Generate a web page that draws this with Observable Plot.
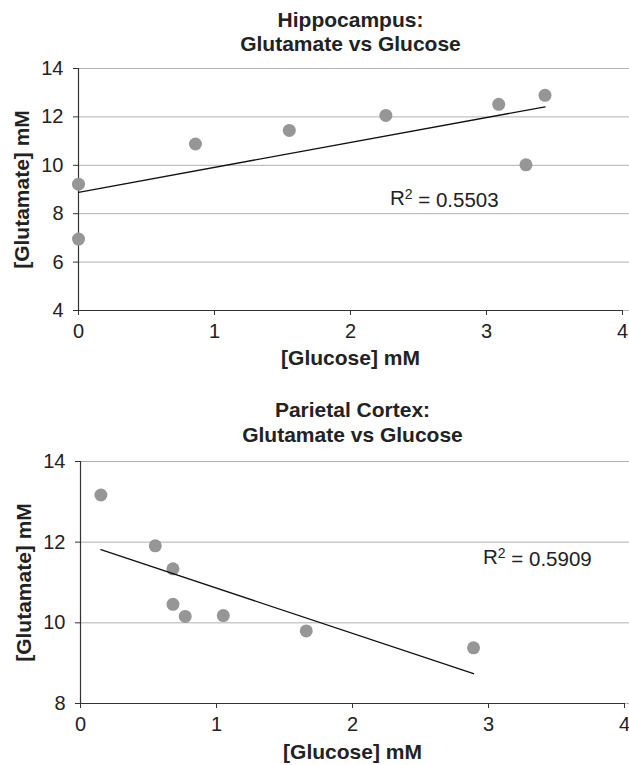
<!DOCTYPE html>
<html><head><meta charset="utf-8">
<script src="https://cdn.jsdelivr.net/npm/d3@7"></script>
<script src="https://cdn.jsdelivr.net/npm/@observablehq/plot@0.6"></script>
<style>
body{margin:0;background:#fff;}
#chart{width:629px;}
#chart svg{display:block;overflow:visible;}
</style></head><body><div id="chart"></div>
<script>
// Hippocampus panel
const hippoGlucose   = [0, 0, 0.86, 1.55, 2.26, 3.09, 3.29, 3.43];
const hippoGlutamate = [9.22, 6.95, 10.88, 11.44, 12.06, 12.52, 10.02, 12.89];
// Parietal cortex panel
const parietalGlucose   = [0.15, 0.55, 0.68, 0.68, 0.77, 1.05, 1.66, 2.89];
const parietalGlutamate = [13.17, 11.91, 11.34, 10.46, 10.16, 10.18, 9.80, 9.38];

const titleLines = [["Hippocampus:", "Glutamate vs Glucose"], ["Parietal Cortex:", "Glutamate vs Glucose"]];
const r2Values = ["0.5503", "0.5909"];
const xLabel = "[Glucose] mM";
const yLabel = "[Glutamate] mM";
const xTicks = [0, 1, 2, 3, 4];
const hippoYTicks = [4, 6, 8, 10, 12, 14];
const parietalYTicks = [8, 10, 12, 14];

const FONT = "'Liberation Sans', Arial, Helvetica, sans-serif";

function panel({xs, ys, yTicks, title, r2, r2x, r2y, height, mt, mb, ml, mr, t1dy, t2dy, xldy}) {
  const data = xs.map((x, i) => ({x, y: ys[i]}));
  const yDomain = [d3.min(yTicks), d3.max(yTicks)];
  const svg = Plot.plot({
    width: 629, height,
    marginTop: mt, marginBottom: mb, marginLeft: ml, marginRight: mr,
    style: {fontFamily: FONT, fontSize: "20px", color: "#222", background: "white"},
    x: {domain: [0, 4], label: null},
    y: {domain: yDomain, label: null},
    marks: [
      Plot.gridY(yTicks, {stroke: "#b0b0b0", strokeOpacity: 1, insetRight: -7}),
      Plot.ruleX([0], {stroke: "#333", strokeWidth: 1.2}),
      Plot.ruleY([yDomain[0]], {stroke: "#333", strokeWidth: 1.2}),
      Plot.axisY(yTicks, {tickSize: 5, tickPadding: 10, fontSize: 20, label: null, stroke: "#333", tickFormat: d => String(d)}),
      Plot.axisX(xTicks, {tickSize: 5, tickPadding: 8, fontSize: 20, label: null, stroke: "#333", tickFormat: d => String(d)}),
      Plot.dot(data, {x: "x", y: "y", r: 6.5, fill: "#969696", stroke: null}),
      Plot.linearRegressionY(data, {x: "x", y: "y", ci: 0, stroke: "#111", strokeWidth: 1.3}),
      Plot.text([r2], {x: r2x, y: r2y, text: d => "R2 = " + d, textAnchor: "start", fontSize: 20.5, fill: "#222", className: "r2label"}),
      Plot.text([title[0]], {frameAnchor: "top", lineAnchor: "middle", text: d => d, dy: t1dy, fontWeight: "bold", fontSize: 21, fill: "#222"}),
      Plot.text([title[1]], {frameAnchor: "top", lineAnchor: "middle", text: d => d, dy: t2dy, fontWeight: "bold", fontSize: 21, fill: "#222"}),
      Plot.text([xLabel], {frameAnchor: "bottom", lineAnchor: "middle", text: d => d, dy: xldy, fontWeight: "bold", fontSize: 21, fill: "#222"}),
      Plot.text([yLabel], {frameAnchor: "left", lineAnchor: "middle", text: d => d, dx: -56, rotate: -90, textAnchor: "middle", fontWeight: "bold", fontSize: 21, fill: "#222"})
    ]
  });
  // Render the "2" of R2 as a superscript (still real text)
  d3.select(svg).selectAll(".r2label text").each(function() {
    const t = d3.select(this);
    const rest = this.textContent.slice(2);
    t.text(null);
    t.append("tspan").text("R");
    t.append("tspan").attr("dy", "-0.42em").attr("font-size", "0.68em").text("2");
    t.append("tspan").attr("dy", "0.42em").text(rest);
  });
  return svg;
}

const chart = document.getElementById("chart");
chart.append(panel({
  xs: hippoGlucose, ys: hippoGlutamate, yTicks: hippoYTicks, title: titleLines[0],
  r2: r2Values[0], r2x: 2.29, r2y: 8.65,
  height: 380, mt: 68, mb: 70, ml: 78, mr: 7, t1dy: -48.7, t2dy: -24.7, xldy: 48
}));
chart.append(panel({
  xs: parietalGlucose, ys: parietalGlutamate, yTicks: parietalYTicks, title: titleLines[1],
  r2: r2Values[1], r2x: 2.96, r2y: 11.63,
  height: 385, mt: 81, mb: 62, ml: 80, mr: 5, t1dy: -51, t2dy: -26, xldy: 49
}));
</script></body></html>
